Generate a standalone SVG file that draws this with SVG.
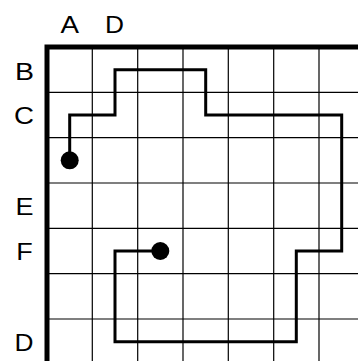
<svg xmlns="http://www.w3.org/2000/svg" width="358" height="361" viewBox="0 0 358 361">
<style>
.grid line{stroke:#000;stroke-width:1.2}
.border{stroke:#000;stroke-width:5;fill:none;stroke-linecap:square}
.path{stroke:#000;stroke-width:3;fill:none;stroke-linejoin:miter}
</style>
<rect width="358" height="361" fill="#fff"/>
<g class="grid">
<line x1="92.3" y1="47" x2="92.3" y2="361"/>
<line x1="137.7" y1="47" x2="137.7" y2="361"/>
<line x1="183" y1="47" x2="183" y2="361"/>
<line x1="228.3" y1="47" x2="228.3" y2="361"/>
<line x1="273.7" y1="47" x2="273.7" y2="361"/>
<line x1="319" y1="47" x2="319" y2="361"/>
<line x1="47" y1="92.3" x2="358" y2="92.3"/>
<line x1="47" y1="137.7" x2="358" y2="137.7"/>
<line x1="47" y1="183" x2="358" y2="183"/>
<line x1="47" y1="228.3" x2="358" y2="228.3"/>
<line x1="47" y1="273.7" x2="358" y2="273.7"/>
<line x1="47" y1="319" x2="358" y2="319"/>
</g>
<path class="border" d="M47,365 V47 H362"/>
<g id="labels" font-family="Liberation Sans, Arial, sans-serif" font-size="23" text-anchor="middle" fill="#000">
<text x="69.7" y="33.3" textLength="18.5" lengthAdjust="spacingAndGlyphs">A</text>
<text x="114.5" y="33.3" textLength="19" lengthAdjust="spacingAndGlyphs">D</text>
<text x="24.5" y="79.5" textLength="19" lengthAdjust="spacingAndGlyphs">B</text>
<text x="24" y="123.5" textLength="20" lengthAdjust="spacingAndGlyphs">C</text>
<text x="24.5" y="215" textLength="18" lengthAdjust="spacingAndGlyphs">E</text>
<text x="24.5" y="259.5" textLength="16.5" lengthAdjust="spacingAndGlyphs">F</text>
<text x="24" y="350.5" textLength="19" lengthAdjust="spacingAndGlyphs">D</text>
</g>
<g id="connectors">
<path class="path" d="M69.7,160.3 V115 H115 V69.7 H205.7 V115 H341.7 V251 H296.3 V341.7 H115 V251 H160.3"/>
</g>
<g id="start"><circle cx="69.7" cy="160.3" r="9"/></g>
<g id="end"><circle cx="160.3" cy="251" r="9"/></g>
</svg>
